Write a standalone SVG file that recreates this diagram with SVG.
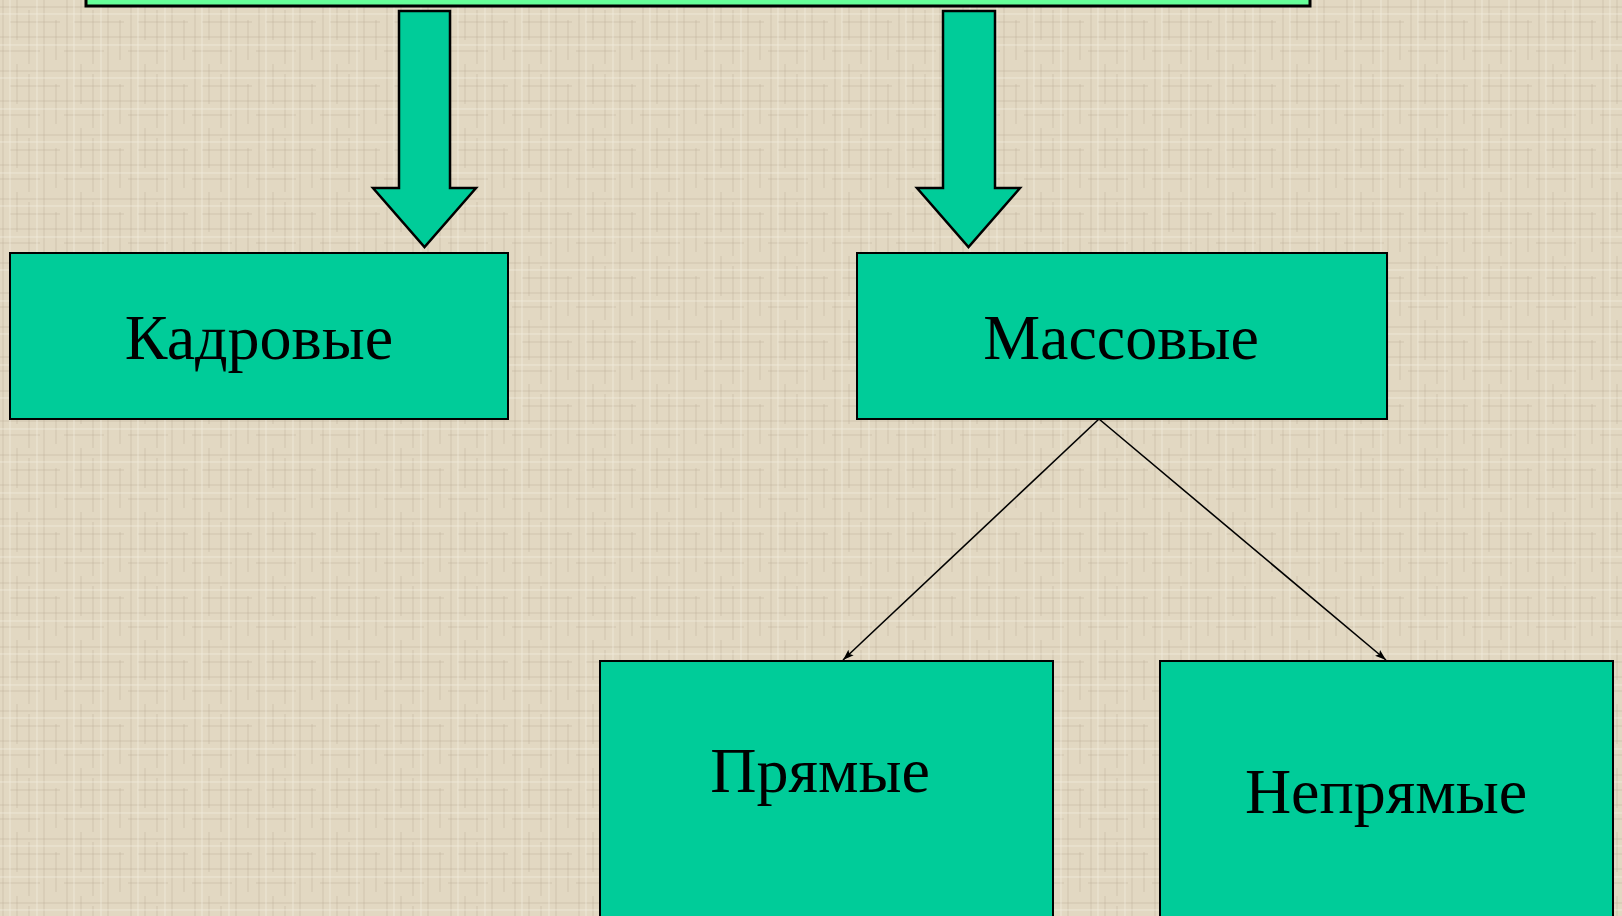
<svg xmlns="http://www.w3.org/2000/svg" width="1622" height="916" viewBox="0 0 1622 916">
  <style>
    .box { fill: #00CC99; stroke: #000; stroke-width: 2; }
    .top { fill: #66FF99; stroke: #000; stroke-width: 3; }
    .arrow { fill: #00CC99; stroke: #000; stroke-width: 2.5; stroke-linejoin: miter; }
    .lbl { font-family: "Liberation Serif", "Times New Roman", serif; font-size: 64px; fill: #000; text-anchor: middle; }
    .conn { stroke: #000; stroke-width: 1.6; fill: none; }
  </style>
  <defs>
    <pattern id="tex" width="64" height="64" patternUnits="userSpaceOnUse">
      <rect width="64" height="64" fill="#E2D8C2"/>
      <g stroke="#B9AE98" stroke-opacity="0.45">
        <line x1="3" y1="0" x2="3" y2="64" stroke-width="1"/>
        <line x1="17" y1="0" x2="17" y2="40" stroke-width="1"/>
        <line x1="29" y1="10" x2="29" y2="64" stroke-width="1"/>
        <line x1="44" y1="0" x2="44" y2="64" stroke-width="1"/>
        <line x1="56" y1="20" x2="56" y2="60" stroke-width="1"/>
        <line x1="0" y1="7" x2="64" y2="7" stroke-width="1"/>
        <line x1="10" y1="22" x2="60" y2="22" stroke-width="1"/>
        <line x1="0" y1="37" x2="64" y2="37" stroke-width="1"/>
        <line x1="0" y1="51" x2="40" y2="51" stroke-width="1"/>
      </g>
      <g stroke="#F3EDDF" stroke-opacity="0.7">
        <line x1="10" y1="0" x2="10" y2="64" stroke-width="1"/>
        <line x1="37" y1="0" x2="37" y2="64" stroke-width="1"/>
        <line x1="0" y1="14" x2="64" y2="14" stroke-width="1"/>
        <line x1="0" y1="45" x2="64" y2="45" stroke-width="1"/>
      </g>
    </pattern>
    <marker id="ah" viewBox="0 0 10 10" refX="10" refY="5" markerWidth="11" markerHeight="11" orient="auto" markerUnits="userSpaceOnUse">
      <path d="M0,1.5 L10,5 L0,8.5 L2,5 Z" fill="#000"/>
    </marker>
  </defs>

  <rect width="1622" height="916" fill="url(#tex)"/>

  <g id="top-node">
    <rect class="top" x="86" y="-20" width="1224" height="26"/>
  </g>

  <g id="arrows">
    <path class="arrow" d="M399,11 L450,11 L450,188 L476,188 L424.5,247 L373,188 L399,188 Z"/>
    <path class="arrow" d="M943,11 L995,11 L995,188 L1020,188 L968.5,247 L917,188 L943,188 Z"/>
  </g>

  <g id="kadrovye">
    <rect class="box" x="10" y="253" width="498" height="166"/>
    <text class="lbl" x="259" y="359">Кадровые</text>
  </g>

  <g id="massovye">
    <rect class="box" x="857" y="253" width="530" height="166"/>
    <text class="lbl" x="1121" y="359">Массовые</text>
  </g>

  <g id="pryamye">
    <rect class="box" x="600" y="661" width="453" height="270"/>
    <text class="lbl" x="820" y="792">Прямые</text>
  </g>

  <g id="nepryamye">
    <rect class="box" x="1160" y="661" width="453" height="270"/>
    <text class="lbl" x="1386" y="813">Непрямые</text>
  </g>

  <g id="connectors">
    <line class="conn" x1="1099" y1="419" x2="843" y2="660" marker-end="url(#ah)"/>
    <line class="conn" x1="1099" y1="419" x2="1386" y2="660" marker-end="url(#ah)"/>
  </g>
</svg>
